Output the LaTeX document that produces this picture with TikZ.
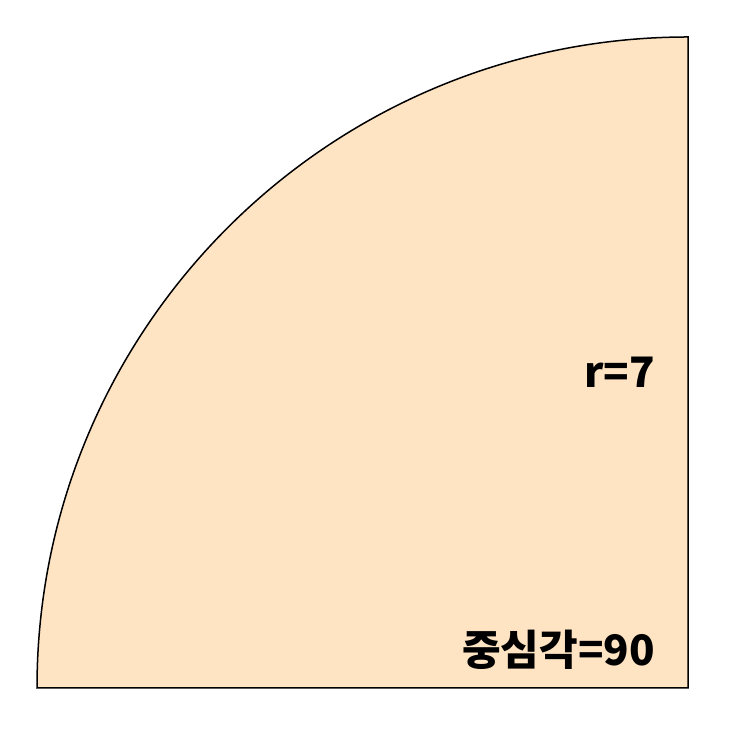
\documentclass[tikz,border=0pt]{standalone}
\usepackage{fontspec}
\newfontfamily\krfont{Noto Sans CJK KR}[BoldFont={* Black}]
\definecolor{sectorfill}{HTML}{FFE4C4}
\begin{document}
\begin{tikzpicture}[x=1pt,y=1pt,
  lbl/.style={font=\krfont\bfseries\fontsize{42}{46}\selectfont, inner sep=0pt, anchor=base east}]
\useasboundingbox (0,0) rectangle (743,743);
\coordinate (O) at (688,55);
\coordinate (A) at (37,55);
\draw[line width=1.5pt, fill=sectorfill, line join=miter] (O) -- (A) arc[start angle=180, end angle=90, radius=651] -- cycle;
\node[lbl] (r) at (655,355) {r=7};
\node[lbl] (ang) at (655,77) {중심각=90};
\end{tikzpicture}
\end{document}
